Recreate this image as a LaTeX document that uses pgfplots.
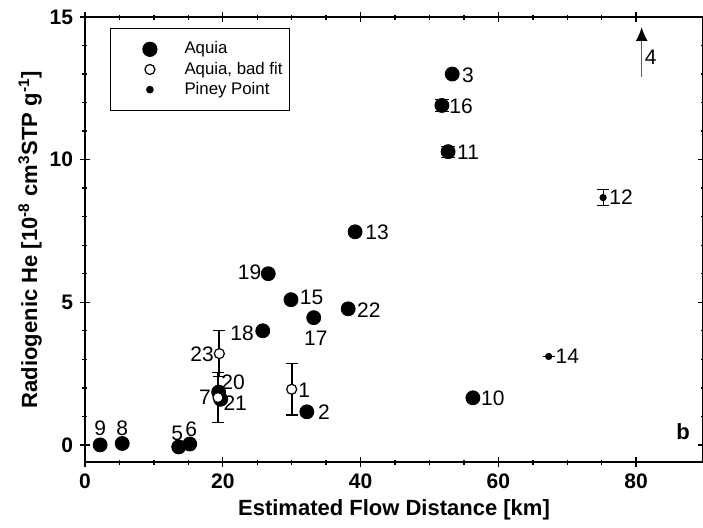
\documentclass[border=0pt]{standalone}
\usepackage{pgfplots}
\pgfplotsset{compat=1.18}
\usepackage{fontspec}
\setmainfont{Liberation Sans}
\usetikzlibrary{arrows.meta}
\begin{document}
\begin{tikzpicture}
\useasboundingbox (-42.5pt,-32.5pt) rectangle (309pt,231pt);
\begin{axis}[
  at={(0pt,0pt)}, anchor=south west,
  scale only axis, width=309pt, height=222.5pt,
  xmin=0, xmax=89.7, ymin=-0.6, ymax=15,
  xtick={0,20,40,60,80}, ytick={0,5,10,15},
  minor x tick num=3, minor y tick num=4,
  tick align=center,
  major tick length=5pt, minor tick length=2.5pt,
  axis line style={line width=0.9pt},
  every tick/.style={black, line width=0.7pt},
  /pgf/number format/assume math mode=true,
  ticklabel style={font=\bfseries\fontsize{10.5}{12}\selectfont},
  xlabel={\bfseries Estimated Flow Distance [km]},
  ylabel={\bfseries Radiogenic He [10\textsuperscript{-8} cm\textsuperscript{3}STP g\textsuperscript{-1}]},
  label style={font=\bfseries\fontsize{11}{13}\selectfont},
  xlabel style={at={(axis description cs:0.5,0)}, anchor=center, yshift=-24pt},
  ylabel style={at={(axis description cs:0,0.5)}, anchor=center, yshift=27.5pt},
  legend style={at={(0.04,0.975)}, anchor=north west, draw=black, line width=0.6pt,
     font=\fontsize{8.4}{10}\selectfont, row sep=-1.5pt, column sep=13pt,
     nodes={inner xsep=0.5pt},
     inner xsep=3pt, inner ysep=4.5pt},
  legend image code/.code={\path (-16.5pt,0pt) (3.5pt,0pt); \draw[#1] plot coordinates {(0pt,0pt)};},
  legend cell align=left,
  clip=false,
]
% Aquia
\addplot[only marks, mark=*, mark size=3.5pt, black,
  error bars/.cd, y dir=both, y explicit]
  coordinates {
  (2.2,0.0) +- (0,0)
  (5.4,0.05) +- (0,0)
  (13.6,-0.07) +- (0,0)
  (15.2,0.03) +- (0,0)
  (19.4,1.85) +- (0,0)
  (19.7,1.6) +- (0,0)
  (25.8,4.0) +- (0,0)
  (32.2,1.16) +- (0,0)
  (26.6,6.0) +- (0,0)
  (29.9,5.09) +- (0,0)
  (33.2,4.46) +- (0,0)
  (38.2,4.77) +- (0,0)
  (39.2,7.47) +- (0,0)
  (53.3,13.0) +- (0,0)
  (51.8,11.9) +- (0,0.22)
  (52.7,10.28) +- (0,0.2)
  (56.3,1.65) +- (0,0)
  };
\addlegendentry{Aquia}
% Aquia, bad fit
\addplot[only marks, mark=*, mark size=2.5pt, black, fill=white, mark options={fill=white, line width=0.6pt},
  error bars/.cd, y dir=both, y explicit, error mark options={rotate=90, mark size=3pt, line width=0.6pt},
  error bar style={line width=0.9pt}]
  coordinates {
  (19.5,3.2) +- (0,0.8)
  (19.3,1.66) +- (0,0.88)
  (30.0,1.95) +- (0,0.9)
  };
\addlegendentry{Aquia, bad fit}
% Piney Point
\addplot[only marks, mark=*, mark size=1.6pt, black,
  error bars/.cd, y dir=both, y explicit, error mark options={rotate=90, mark size=3pt, line width=0.6pt}]
  coordinates {
  (67.3,3.1) +- (0,0)
  (75.2,8.67) +- (0,0.27)
  };
\addlegendentry{Piney Point}
% arrow for sample 4 (off scale)
\addplot[gray!70!black, line width=0.8pt, -{Latex[length=7pt,width=6pt,black]}, forget plot]
  coordinates {(80.8,12.9) (80.8,14.65)};
% labels
\begin{scope}[font=\fontsize{10.5}{12}\selectfont]
\node at (axis cs:2.2,0.6) {9};
\node at (axis cs:5.4,0.6) {8};
\node at (axis cs:13.4,0.42) {5};
\node at (axis cs:15.4,0.56) {6};
\node at (axis cs:17.0,3.19) {23};
\node at (axis cs:21.5,2.18) {20};
\node at (axis cs:17.4,1.68) {7};
\node at (axis cs:21.8,1.47) {21};
\node at (axis cs:22.8,3.93) {18};
\node at (axis cs:31.8,1.93) {1};
\node at (axis cs:34.7,1.16) {2};
\node at (axis cs:23.9,6.04) {19};
\node at (axis cs:32.9,5.16) {15};
\node at (axis cs:33.5,3.75) {17};
\node at (axis cs:41.2,4.74) {22};
\node at (axis cs:42.4,7.47) {13};
\node at (axis cs:55.6,12.95) {3};
\node at (axis cs:54.6,11.86) {16};
\node at (axis cs:55.6,10.25) {11};
\node at (axis cs:77.8,8.67) {12};
\node at (axis cs:70.0,3.09) {14};
\node at (axis cs:59.2,1.65) {10};
\node at (axis cs:82.1,13.58) {4};
\node[font=\bfseries\fontsize{11}{13}\selectfont] at (axis cs:86.8,0.46) {b};
\end{scope}
\end{axis}
\end{tikzpicture}
\end{document}
